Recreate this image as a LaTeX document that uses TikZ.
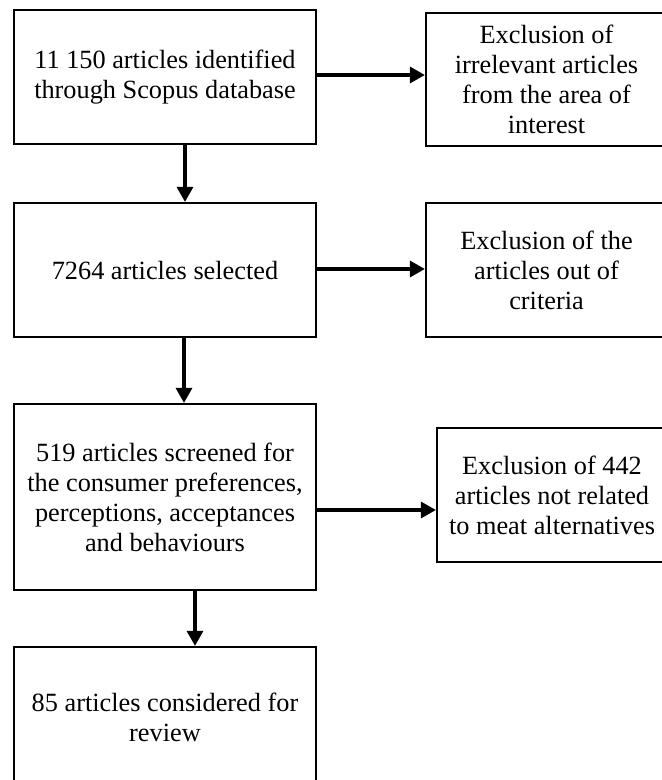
\documentclass[tikz,border=0pt]{standalone}
\usepackage{fontspec}
\setmainfont{Liberation Serif}
\usetikzlibrary{arrows.meta}
\tikzset{
  box/.style={draw=black, line width=2.2pt, rectangle, inner sep=0pt, align=center,
    font=\fontsize{26.3}{30}\selectfont},
  arr/.style={line width=3.2pt, -{Triangle[length=15pt,width=16pt]}}
}
\begin{document}
\begin{tikzpicture}[x=1pt,y=-1pt]
\useasboundingbox (0,0) rectangle (662,780);
\clip (0,0) rectangle (662,780);
\node[box, minimum width=302pt, minimum height=134pt] (b1) at (165,77) {11 150 articles identified\\through Scopus database};
\node[box, minimum width=302pt, minimum height=134pt] (b2) at (165,270) {7264 articles selected};
\node[box, minimum width=302pt, minimum height=186pt] (b3) at (165,497) {519 articles screened for\\the consumer preferences,\\perceptions, acceptances\\and behaviours};
\node[box, minimum width=302pt, minimum height=140pt] (b4) at (165,717) {85 articles considered for\\review};
\node[box, minimum width=241pt, minimum height=133pt] (bA) at (546.5,79.5) {Exclusion of\\irrelevant articles\\from the area of\\interest};
\node[box, minimum width=241pt, minimum height=134pt] (bB) at (546.5,270) {Exclusion of the\\articles out of\\criteria};
\node[box, minimum width=230pt, minimum height=134pt] (bC) at (552,495) {Exclusion of 442\\articles not related\\to meat alternatives};
\draw[arr] ([xshift=20pt]b1.south) -- ([xshift=20pt]b1.south |- b2.north);
\draw[arr] ([xshift=19pt]b2.south) -- ([xshift=19pt]b2.south |- b3.north);
\draw[arr] ([xshift=30pt]b3.south) -- ([xshift=30pt]b3.south |- b4.north);
\draw[arr] ([yshift=2pt]b1.east) -- ([yshift=2pt]b1.east -| bA.west);
\draw[arr] ([yshift=1pt]b2.east) -- ([yshift=1pt]b2.east -| bB.west);
\draw[arr] ([yshift=-13pt]b3.east) -- ([yshift=-13pt]b3.east -| bC.west);
\end{tikzpicture}
\end{document}
